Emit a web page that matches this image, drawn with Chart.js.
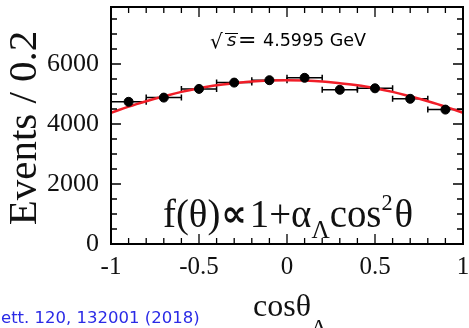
<!DOCTYPE html>
<html>
<head>
<meta charset="utf-8">
<script src="https://cdn.jsdelivr.net/npm/chart.js@4/dist/chart.umd.min.js"></script>
<style>
  html, body { margin: 0; padding: 0; background: #fff; }
  canvas { display: block; }
</style>
</head>
<body>
<canvas id="c" width="469" height="328"></canvas>
<script>
// Angular distribution of cos(theta_Lambda_c), bins of width 0.2
const binCenters = [-0.9, -0.7, -0.5, -0.3, -0.1, 0.1, 0.3, 0.5, 0.7, 0.9];
const events     = [4740, 4880, 5170, 5380, 5460, 5540, 5140, 5190, 4840, 4480];
const eventErr   = [130, 130, 130, 130, 130, 130, 130, 130, 130, 130];
const binHalf    = [0.1, 0.1, 0.1, 0.1, 0.1, 0.1, 0.1, 0.1, 0.1, 0.1];

// Fitted curve, sampled along cos(theta)
const fitX = [-1, -0.9, -0.8, -0.7, -0.6, -0.5, -0.4, -0.3, -0.2, -0.1, 0,
              0.1, 0.2, 0.3, 0.4, 0.5, 0.6, 0.7, 0.8, 0.9, 1];
const fitY = [4370, 4580, 4760, 4920, 5070, 5190, 5290, 5360, 5420, 5450, 5460,
              5450, 5420, 5360, 5290, 5190, 5070, 4920, 4760, 4580, 4370];

// Background component (flat at zero)
const bkgX = [-1, 1];
const bkgY = [0, 0];

const xTicks = [-1, -0.5, 0, 0.5, 1];
const yTicks = [0, 2000, 4000, 6000];

const SERIF = '"Liberation Serif", "Times New Roman", serif';
const SANS = '"DejaVu Sans", sans-serif';

const frameAndText = {
  id: 'frameAndText',
  beforeDatasetsDraw(chart) {
    const { ctx } = chart;
    const xs = chart.scales.x, ys = chart.scales.y;
    ctx.save();
    ctx.strokeStyle = '#000';
    ctx.lineWidth = 1.5;
    binCenters.forEach((c, i) => {
      const px = xs.getPixelForValue(c);
      const py = ys.getPixelForValue(events[i]);
      const x0 = xs.getPixelForValue(c - binHalf[i]);
      const x1 = xs.getPixelForValue(c + binHalf[i]);
      const y0 = ys.getPixelForValue(events[i] - eventErr[i]);
      const y1 = ys.getPixelForValue(events[i] + eventErr[i]);
      ctx.beginPath();
      ctx.moveTo(x0, py); ctx.lineTo(x1, py);
      ctx.moveTo(x0, py - 3); ctx.lineTo(x0, py + 3);
      ctx.moveTo(x1, py - 3); ctx.lineTo(x1, py + 3);
      ctx.moveTo(px, y0); ctx.lineTo(px, y1);
      ctx.stroke();
    });
    ctx.restore();
  },
  afterDraw(chart) {
    const { ctx, chartArea: a } = chart;
    const xs = chart.scales.x, ys = chart.scales.y;
    ctx.save();
    // frame
    ctx.strokeStyle = '#000';
    ctx.lineWidth = 2;
    ctx.strokeRect(a.left, a.top, a.right - a.left, a.bottom - a.top);
    // inward ticks
    ctx.lineWidth = 1.3;
    ctx.beginPath();
    for (let k = -10; k <= 10; k++) {
      const v = k / 10;
      const px = xs.getPixelForValue(v);
      const len = (k % 5 === 0) ? 10 : 6;
      ctx.moveTo(px, a.bottom); ctx.lineTo(px, a.bottom - len);
      ctx.moveTo(px, a.top); ctx.lineTo(px, a.top + len);
    }
    for (let v = 0; v <= 7900; v += 500) {
      const py = ys.getPixelForValue(v);
      const len = (v % 2000 === 0) ? 10 : 6;
      ctx.moveTo(a.left, py); ctx.lineTo(a.left + len, py);
      ctx.moveTo(a.right, py); ctx.lineTo(a.right - len, py);
    }
    ctx.stroke();

    ctx.fillStyle = '#111';
    ctx.textBaseline = 'alphabetic';

    // y-axis title
    ctx.save();
    ctx.translate(36, 128);
    ctx.rotate(-Math.PI / 2);
    ctx.font = '41px ' + SERIF;
    ctx.textAlign = 'center';
    ctx.fillText('Events / 0.2', 0, 0);
    ctx.restore();

    // x-axis title
    ctx.textAlign = 'left';
    ctx.font = '32px ' + SERIF;
    ctx.fillText('cosθ', 253, 316);
    let w = ctx.measureText('cosθ').width;
    ctx.font = '22px ' + SERIF;
    ctx.fillText('Λ', 253 + w, 334);
    let w2 = ctx.measureText('Λ').width;
    ctx.font = '15px ' + SERIF;
    ctx.fillText('c', 253 + w + w2, 340);

    // fit formula
    ctx.save();
    ctx.translate(163, 227);
    ctx.scale(0.97, 1);
    let x = 0;
    const put = (t, font, dy, gap) => {
      ctx.font = font;
      x += (gap || 0);
      ctx.fillText(t, x, dy || 0);
      x += ctx.measureText(t).width;
    };
    put('f(θ)', '40px ' + SERIF);
    put('∝', 'bold 37px ' + SANS, -1, 1);
    put('1+α', '40px ' + SERIF, 0, 3);
    put('Λ', '26px ' + SERIF, 11);
    put('cos', '40px ' + SERIF);
    put('2', '23px ' + SERIF, -17);
    put('θ', '40px ' + SERIF, 0, 2);
    ctx.restore();

    // energy label
    ctx.fillStyle = '#000';
    ctx.font = '20px ' + SANS;
    ctx.fillText('√', 210, 48);
    ctx.font = 'italic 18px ' + SANS;
    ctx.fillText('s', 227, 46);
    ctx.lineWidth = 1;
    ctx.beginPath();
    ctx.moveTo(225, 33.5); ctx.lineTo(238, 33.5);
    ctx.stroke();
    ctx.font = '22px ' + SANS;
    ctx.fillText('=', 238, 47);
    ctx.font = '17.5px ' + SANS;
    ctx.fillText('4.5995 GeV', 263, 46);

    // reference line
    ctx.font = '16.5px ' + SANS;
    ctx.fillStyle = '#2a2ae6';
    ctx.fillText('ett. 120, 132001 (2018)', 1, 323);
    ctx.restore();
  }
};

new Chart(document.getElementById('c'), {
  type: 'scatter',
  data: {
    datasets: [
      {
        label: 'data',
        data: binCenters.map((c, i) => ({ x: c, y: events[i] })),
        backgroundColor: '#000',
        borderColor: '#000',
        pointRadius: 4.5,
        pointHoverRadius: 4.5,
        order: 0
      },
      {
        label: 'fit',
        type: 'line',
        data: fitX.map((v, i) => ({ x: v, y: fitY[i] })),
        borderColor: '#f01e28',
        borderWidth: 2.5,
        pointRadius: 0,
        tension: 0.4,
        fill: false,
        order: 1
      },
      {
        label: 'bkg',
        type: 'line',
        data: bkgX.map((v, i) => ({ x: v, y: bkgY[i] })),
        borderColor: '#f01e28',
        borderWidth: 2,
        pointRadius: 0,
        clip: 4,
        fill: false,
        order: 2
      }
    ]
  },
  options: {
    responsive: false,
    animation: false,
    devicePixelRatio: 1,
    layout: { padding: { top: 7, right: 6, left: 0, bottom: 0 } },
    plugins: { legend: { display: false }, tooltip: { enabled: false } },
    scales: {
      x: {
        type: 'linear',
        min: -1, max: 1,
        grid: { display: false, drawTicks: false },
        border: { display: false },
        afterBuildTicks: s => { s.ticks = xTicks.map(v => ({ value: v })); },
        afterFit: s => { s.height = 84; s.paddingLeft = 0; s.paddingRight = 0; },
        ticks: {
          color: '#111',
          padding: 8,
          font: { family: SERIF, size: 25 },
          maxRotation: 0,
          callback: v => String(v)
        }
      },
      y: {
        type: 'linear',
        min: 0, max: 7900,
        grid: { display: false, drawTicks: false },
        border: { display: false },
        afterBuildTicks: s => { s.ticks = yTicks.map(v => ({ value: v })); },
        afterFit: s => { s.width = 111; s.paddingTop = 0; s.paddingBottom = 0; },
        ticks: {
          color: '#111',
          padding: 12,
          font: { family: SERIF, size: 26 },
          callback: v => String(v)
        }
      }
    }
  },
  plugins: [frameAndText]
});
</script>
</body>
</html>
